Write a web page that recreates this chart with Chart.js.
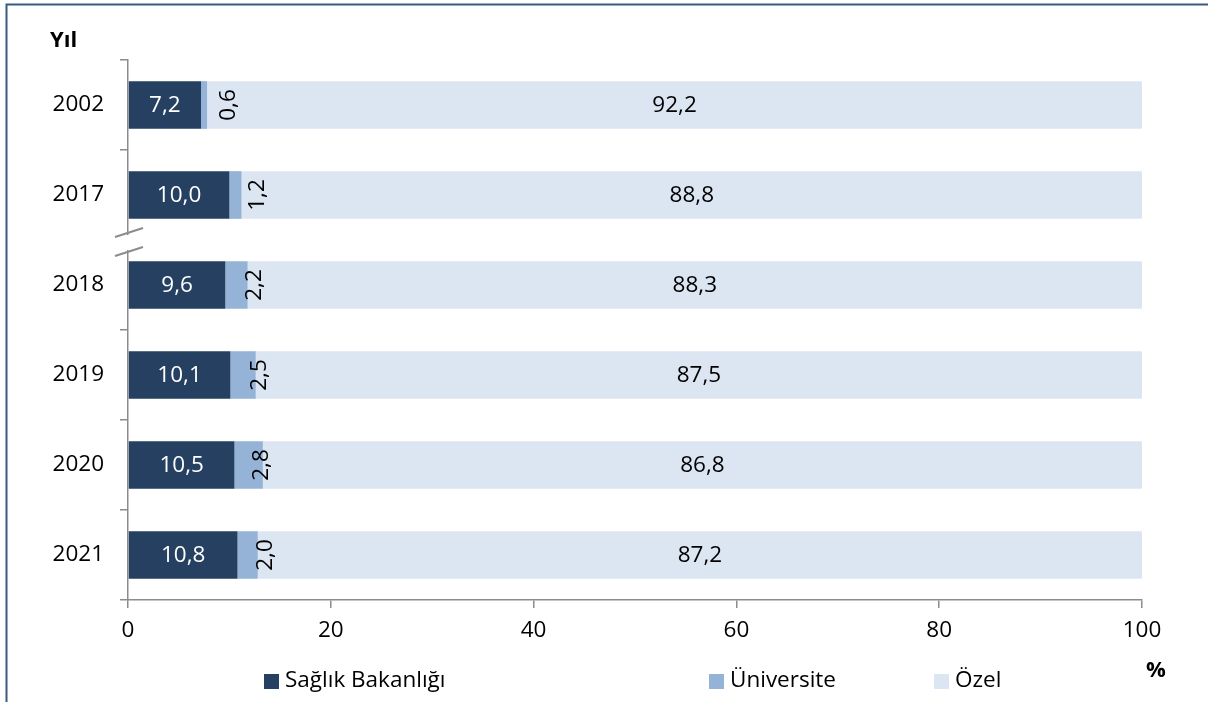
<!DOCTYPE html>
<html>
<head>
<meta charset="utf-8">
<script src="https://cdn.jsdelivr.net/npm/chart.js@4"></script>
<style>
  html, body { margin: 0; padding: 0; background: #fff; }
  canvas { display: block; }
</style>
</head>
<body>
<canvas id="chart" width="1208" height="702"></canvas>
<script>
// data
const years = ['2002', '2017', '2018', '2019', '2020', '2021'];
const seriesNames = ['Sağlık Bakanlığı', 'Üniversite', 'Özel'];
const saglikBakanligi = [7.2, 10.0, 9.6, 10.1, 10.5, 10.8];
const universite = [0.6, 1.2, 2.2, 2.5, 2.8, 2.0];
const ozel = [92.2, 88.8, 88.3, 87.5, 86.8, 87.2];
const yAxisTitle = 'Yıl';
const xAxisTitle = '%';

const colors = ['#254061', '#95B3D7', '#DCE6F2'];
const FONT = "'Open Sans', sans-serif";
const AXIS = '#8C8C8C';
// the rotated Üniversite labels sit by hand next to the bar end (px)
const uniLabelShift = [22, 16, 7, 4, -1, 8];

function fmt(v) {
  return v.toFixed(1).replace('.', ',');
}

// frame + white background
const framePlugin = {
  id: 'frame',
  beforeDraw(chart) {
    const ctx = chart.ctx;
    ctx.save();
    ctx.fillStyle = '#fff';
    ctx.fillRect(0, 0, chart.width, chart.height);
    ctx.strokeStyle = '#3B5A82';
    ctx.lineWidth = 2;
    ctx.beginPath();
    ctx.moveTo(6.5, chart.height);
    ctx.lineTo(6.5, 4.5);
    ctx.lineTo(chart.width, 4.5);
    ctx.stroke();
    ctx.restore();
  }
};

// value labels on the bars
const labelPlugin = {
  id: 'barLabels',
  afterDatasetsDraw(chart) {
    const ctx = chart.ctx;
    ctx.save();
    ctx.font = '22.5px ' + FONT;
    ctx.textBaseline = 'middle';
    ctx.textAlign = 'center';
    chart.data.datasets.forEach((ds, i) => {
      const meta = chart.getDatasetMeta(i);
      meta.data.forEach((bar, j) => {
        const v = ds.data[j];
        const mid = (bar.x + bar.base) / 2;
        if (i === 0) {
          ctx.fillStyle = '#fff';
          ctx.fillText(fmt(v), mid, bar.y + 1);
        } else if (i === 1) {
          ctx.fillStyle = '#000';
          ctx.save();
          ctx.translate(bar.x + uniLabelShift[j], bar.y);
          ctx.rotate(-Math.PI / 2);
          ctx.fillText(fmt(v), 0, 0);
          ctx.restore();
        } else {
          ctx.fillStyle = '#000';
          ctx.fillText(fmt(v), Math.min(mid, (bar.base + chart.chartArea.right) / 2), bar.y + 1);
        }
      });
    });
    ctx.restore();
  }
};

// axis break, titles and legend
const extrasPlugin = {
  id: 'extras',
  afterDraw(chart) {
    const ctx = chart.ctx;
    const yScale = chart.scales.y;
    const x0 = chart.chartArea.left;
    const yb = (yScale.getPixelForValue(1) + yScale.getPixelForValue(2)) / 2;
    ctx.save();
    // break marks between 2017 and 2018
    ctx.fillStyle = '#fff';
    ctx.fillRect(x0 - 12, yb - 5, 14, 15);
    ctx.strokeStyle = AXIS;
    ctx.lineWidth = 2;
    ctx.beginPath();
    ctx.moveTo(x0 - 13, yb - 3);
    ctx.lineTo(x0 + 15, yb - 12);
    ctx.moveTo(x0 - 13, yb + 16);
    ctx.lineTo(x0 + 15, yb + 7);
    ctx.stroke();

    // axis titles
    ctx.fillStyle = '#000';
    ctx.font = 'bold 22px ' + FONT;
    ctx.textBaseline = 'middle';
    ctx.textAlign = 'left';
    ctx.fillText(yAxisTitle, 50, 41);
    ctx.textAlign = 'center';
    ctx.fillText(xAxisTitle, 1156, 671);

    // legend
    const lx = [264, 709, 934];
    const ly = 681;
    ctx.font = '22.5px ' + FONT;
    ctx.textAlign = 'left';
    seriesNames.forEach((name, i) => {
      ctx.fillStyle = colors[i];
      ctx.fillRect(lx[i], ly - 7, 15, 15);
      ctx.fillStyle = '#000';
      ctx.fillText(name, lx[i] + 21, ly);
    });
    ctx.restore();
  }
};

const ctx = document.getElementById('chart').getContext('2d');
new Chart(ctx, {
  type: 'bar',
  data: {
    labels: years,
    datasets: [
      { label: seriesNames[0], data: saglikBakanligi, backgroundColor: colors[0] },
      { label: seriesNames[1], data: universite, backgroundColor: colors[1] },
      { label: seriesNames[2], data: ozel, backgroundColor: colors[2] }
    ]
  },
  options: {
    indexAxis: 'y',
    responsive: false,
    animation: false,
    devicePixelRatio: 1,
    datasets: {
      bar: { categoryPercentage: 1, barPercentage: 0.53, borderWidth: 0 }
    },
    layout: { padding: { top: 60, right: 66, left: 0, bottom: 0 } },
    plugins: {
      legend: { display: false },
      tooltip: { enabled: false },
      title: { display: false }
    },
    scales: {
      x: {
        stacked: true,
        min: 0,
        max: 100,
        afterFit: s => { s.height = 102; },
        border: { color: AXIS, width: 1.5 },
        grid: { drawOnChartArea: false, drawTicks: true, tickLength: 8, color: AXIS, lineWidth: 1.5 },
        ticks: { stepSize: 20, color: '#000', padding: 9, font: { family: FONT, size: 22.5 } }
      },
      y: {
        stacked: true,
        afterFit: s => { s.width = 128; },
        border: { color: AXIS, width: 1.5 },
        grid: { offset: true, drawOnChartArea: false, drawTicks: true, tickLength: 8, color: AXIS, lineWidth: 1.5 },
        ticks: { color: '#000', padding: 16, font: { family: FONT, size: 22.5 } }
      }
    }
  },
  plugins: [framePlugin, labelPlugin, extrasPlugin]
});
</script>
</body>
</html>
